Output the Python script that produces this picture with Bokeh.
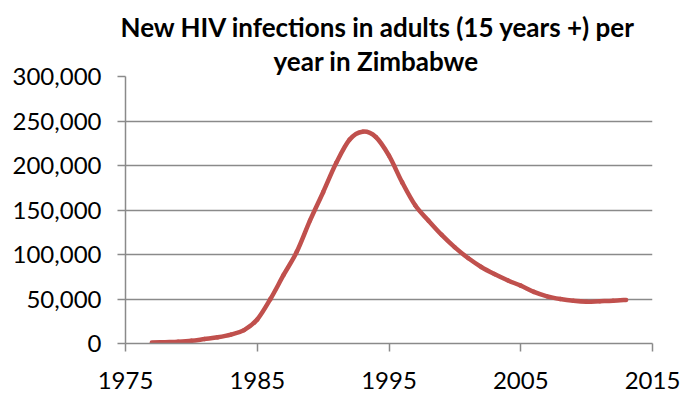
from bokeh.plotting import figure
from bokeh.models import NumeralTickFormatter, FixedTicker, Range1d, Title
from bokeh.embed import file_html
from bokeh.resources import INLINE

years = list(range(1977, 2014))
infections = [1000, 1500, 2000, 3000, 5000, 7000, 10000, 15000, 27000, 50000,
              77000, 103000, 138000, 170000, 203000, 229000, 238000, 232000,
              211000, 181000, 155000, 138000, 122000, 108000, 96000, 86000,
              78000, 71000, 65000, 58000, 53000, 50000, 48000, 47000, 47500,
              48000, 49000]
x_ticks = [1975, 1985, 1995, 2005, 2015]
y_ticks = [0, 50000, 100000, 150000, 200000, 250000, 300000]
title_lines = ["New HIV infections in adults (15 years +) per", "year in Zimbabwe"]

FONT = "Lato"
GRAY = "#8a8a8a"
RED = "#C0504D"

p = figure(width=681, height=396, output_backend="svg", toolbar_location=None,
           x_range=Range1d(1975, 2015), y_range=Range1d(0, 300000),
           min_border_left=125, min_border_right=29, min_border_bottom=53,
           min_border_top=76)
p.title.visible = False
for line, off in reversed(list(zip(title_lines, [-5, 148]))):
    t = Title(text=line, align="left", text_font=FONT, text_font_size="26px",
              text_font_style="bold", text_color="#000000", offset=off, standoff=0)
    p.add_layout(t, "above")
p.outline_line_color = None

# smooth curve through the yearly values (Catmull-Rom as cubic Beziers)
n = len(years)
x0, y0, x1, y1, cx0, cy0, cx1, cy1 = [], [], [], [], [], [], [], []
for i in range(n - 1):
    xa, ya = years[i], infections[i]
    xb, yb = years[i + 1], infections[i + 1]
    xp, yp = (years[i - 1], infections[i - 1]) if i > 0 else (xa, ya)
    xn, yn = (years[i + 2], infections[i + 2]) if i + 2 < n else (xb, yb)
    x0.append(xa); y0.append(ya); x1.append(xb); y1.append(yb)
    cx0.append(xa + (xb - xp) / 6); cy0.append(ya + (yb - yp) / 6)
    cx1.append(xb - (xn - xa) / 6); cy1.append(yb - (yn - ya) / 6)
p.bezier(x0=x0, y0=y0, x1=x1, y1=y1, cx0=cx0, cy0=cy0, cx1=cx1, cy1=cy1,
         line_color=RED, line_width=4.5, line_cap="round")

p.xaxis.ticker = FixedTicker(ticks=x_ticks)
p.yaxis.ticker = FixedTicker(ticks=y_ticks)
p.yaxis.formatter = NumeralTickFormatter(format="0,0")
for ax in (p.xaxis, p.yaxis):
    ax.axis_line_color = GRAY
    ax.axis_line_width = 1.5
    ax.major_tick_line_color = GRAY
    ax.major_tick_line_width = 1.5
    ax.major_tick_in = 0
    ax.major_tick_out = 8
    ax.minor_tick_line_color = None
    ax.major_label_text_font = FONT
    ax.major_label_text_font_size = "24px"
    ax.major_label_text_color = "#000000"
p.yaxis.major_label_standoff = 16
p.xaxis.major_label_standoff = 20
p.xgrid.grid_line_color = None
p.ygrid.grid_line_color = GRAY
p.ygrid.grid_line_width = 1.5

open("out.html", "w").write(file_html(p, INLINE))
